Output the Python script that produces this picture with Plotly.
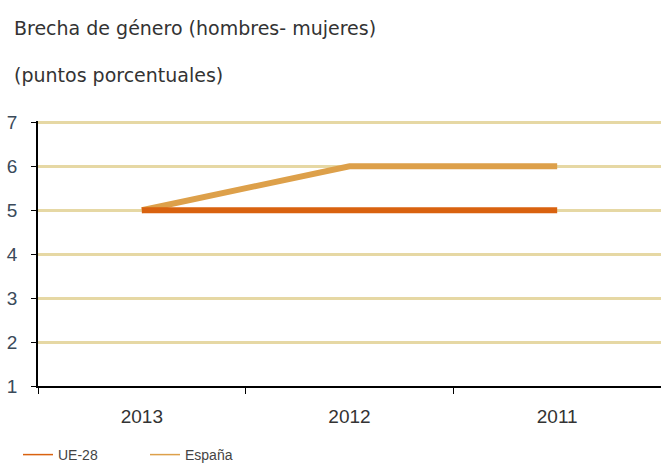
import plotly.graph_objects as go

# Brecha de género en puntos porcentuales
years = ["2013", "2012", "2011"]
ue28 = [5, 5, 5]
espana = [5, 6, 6]
y_ticks = [1, 2, 3, 4, 5, 6, 7]

c_ue = "#D9620F"
c_es = "#DDA04A"
c_grid = "#E6D8A4"
font = "Liberation Sans, Arial, sans-serif"

L, R, T, B = 38, 0, 121, 80
W, H = 661, 466
plot_w = W - L - R
plot_h = H - T - B


def px_to_paper(px, py):
    return (px - L) / plot_w, (H - B - py) / plot_h


fig = go.Figure()
fig.add_trace(go.Scatter(x=years, y=espana, mode="lines", name="España",
                         line=dict(color=c_es, width=6), showlegend=False))
fig.add_trace(go.Scatter(x=years, y=ue28, mode="lines", name="UE-28",
                         line=dict(color=c_ue, width=6), showlegend=False))
# thin legend samples
fig.add_trace(go.Scatter(x=[None], y=[None], mode="lines", name="UE-28",
                         line=dict(color=c_ue, width=1.5)))
fig.add_trace(go.Scatter(x=[None], y=[None], mode="lines", name="España",
                         line=dict(color=c_es, width=1.5)))

lx, ly = px_to_paper(18, 455)
fig.update_layout(
    width=W, height=H,
    margin=dict(l=L, r=R, t=T, b=B, autoexpand=False),
    paper_bgcolor="white", plot_bgcolor="white",
    font=dict(family=font, color="#333333"),
    showlegend=True,
    legend=dict(orientation="h", x=lx, xanchor="left", y=ly, yanchor="middle",
                font=dict(size=14, color="#444444"),
                entrywidth=82, entrywidthmode="pixels",
                bgcolor="rgba(0,0,0,0)"),
    xaxis=dict(type="category", range=[-0.5, 2.5], showgrid=False,
               showline=True, linecolor="black", linewidth=1.5,
               ticks="outside", tickson="boundaries", ticklen=6, tickcolor="black",
               ticklabelstandoff=12,
               tickfont=dict(size=19, color="#333333"), fixedrange=True),
    yaxis=dict(range=[1, 7.03], tickvals=y_ticks, showgrid=True,
               gridcolor=c_grid, gridwidth=3, zeroline=False,
               showline=True, linecolor="black", linewidth=1.5,
               ticks="outside", ticklen=5, tickcolor="black",
               ticklabelstandoff=10,
               tickfont=dict(size=19, color="#3a4a5a"), fixedrange=True),
)

for txt, py in [("Brecha de género (hombres- mujeres)", 28), ("(puntos porcentuales)", 75)]:
    ax, ay = px_to_paper(12, py)
    fig.add_annotation(text=txt, x=ax, y=ay, xref="paper", yref="paper",
                       xanchor="left", yanchor="middle", showarrow=False,
                       font=dict(size=19, color="#333333",
                                 family="DejaVu Sans, sans-serif"))

fig.write_html("out.html")
